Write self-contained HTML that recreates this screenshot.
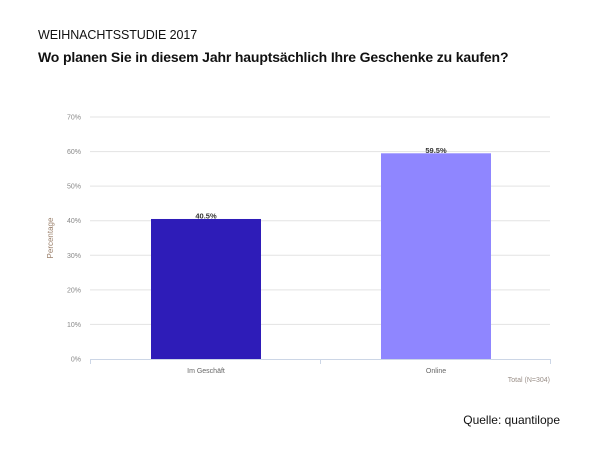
<!DOCTYPE html>
<html><head><meta charset="utf-8"><style>
body{margin:0;width:600px;height:450px;background:#fff;font-family:"Liberation Sans",sans-serif;position:relative;overflow:hidden}
.t1{position:absolute;left:38px;top:28px;font-size:12.5px;color:#111;letter-spacing:-0.1px}
.t2{position:absolute;left:38px;top:49px;font-size:14px;font-weight:bold;color:#111;letter-spacing:-0.15px}
.src{position:absolute;right:40px;top:413px;font-size:12px;color:#111}
svg{position:absolute;left:0;top:0}
</style></head><body>
<div class="t1">WEIHNACHTSSTUDIE 2017</div>
<div class="t2">Wo planen Sie in diesem Jahr hauptsächlich Ihre Geschenke zu kaufen?</div>
<svg id="c" width="600" height="450"></svg>
<div class="src">Quelle: quantilope</div>
<script>
const categories=["Im Geschäft","Online"];
const values=[40.5,59.5];
const labels=["40.5%","59.5%"];
const ticks=[0,10,20,30,40,50,60,70];
const colors=["#2e1cb8","#8f86ff"];
const svg=document.getElementById('c');const NS="http://www.w3.org/2000/svg";
const x0=90,x1=550,y0=359,yTop=117,maxV=70;
const y=v=>y0-(v/maxV)*(y0-yTop);
const bw=(x1-x0)/categories.length;
function mk(t,a,txt){const e=document.createElementNS(NS,t);for(const k in a)e.setAttribute(k,a[k]);if(txt!==undefined)e.textContent=txt;svg.appendChild(e);return e;}
ticks.forEach(t=>{
 if(t>0){const g=mk('line',{x1:x0,x2:x1,y1:y(t),y2:y(t),stroke:'#e3e3e3','stroke-width':1});
 
 }
 const l=mk('text',{x:x0-9,y:y(t)+2.5,'text-anchor':'end','font-size':7,fill:'#888'},t+'%');
 
 
});
const yt=mk('text',{x:53,y:238,'text-anchor':'middle','font-size':8,fill:'#9a7f6a',transform:'rotate(-90 53 238)'},'Percentage');


const ax=mk('line',{x1:x0,x2:x1,y1:y0+0.5,y2:y0+0.5,stroke:'#ccd6e6','stroke-width':1});


for(let i=0;i<=categories.length;i++){const tk=mk('line',{x1:x0+i*bw+0.5,x2:x0+i*bw+0.5,y1:y0,y2:y0+5,stroke:'#ccd6e6'});

}
categories.forEach((c,i)=>{
 const cx=x0+bw*(i+0.5)+1,w=110;
 const r=mk('rect',{x:cx-w/2,y:y(values[i]),width:w,height:y0-y(values[i]),fill:colors[i]});
 
 
 const v=mk('text',{x:cx,y:y(values[i])-0.5,'text-anchor':'middle','font-size':7.5,'font-weight':'bold',fill:'#333'},labels[i]);
 
 
 const cl=mk('text',{x:cx,y:y0+14,'text-anchor':'middle','font-size':7,fill:'#666'},c);
 
 
});
const tot=mk('text',{x:x1,y:y0+23,'text-anchor':'end','font-size':7,fill:'#9a8f88'},'Total (N=304)');


</script>
</body></html>
